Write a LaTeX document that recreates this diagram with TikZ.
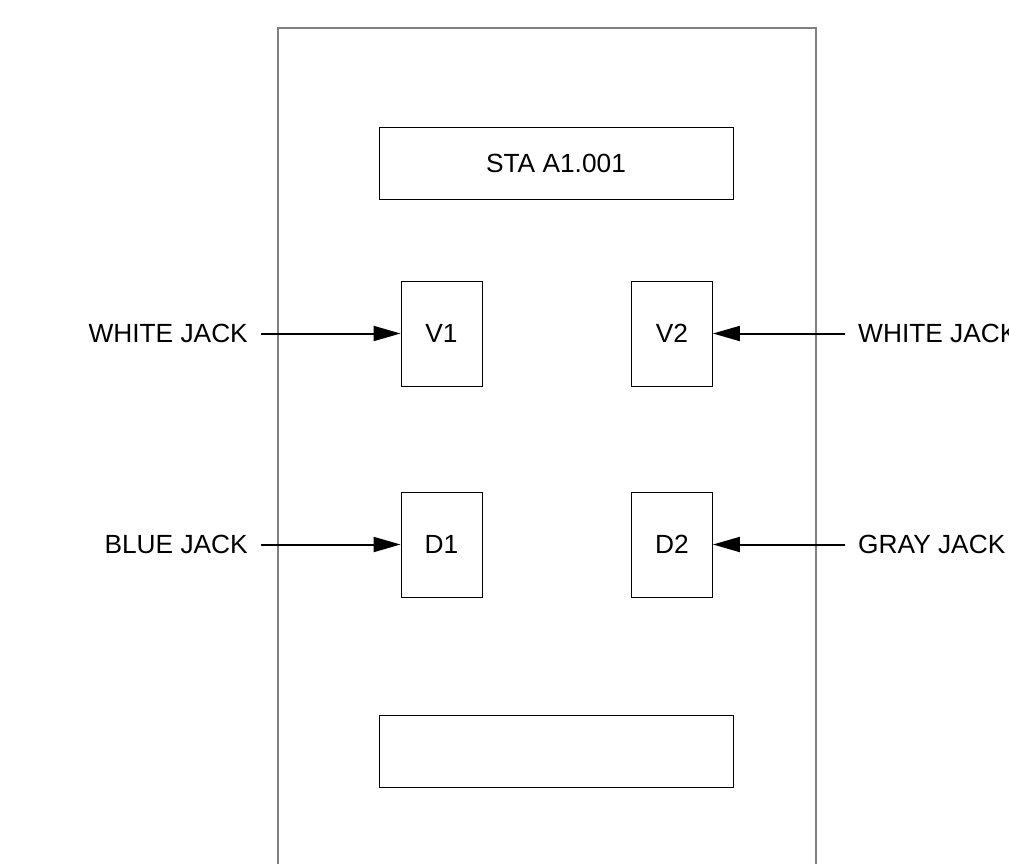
\documentclass[tikz,border=0pt]{standalone}
\usepackage{fontspec}
\setmainfont{Liberation Sans}
\usetikzlibrary{arrows.meta,positioning}

\begin{document}
\begin{tikzpicture}[
    x=1pt, y=-1pt,
    every node/.style={font=\fontsize{26.3}{31}\selectfont},
    panel/.style={draw=black!50, line width=1.2pt},
    jack/.style={draw, line width=0.9pt, minimum width=81pt, minimum height=105pt, inner sep=0pt},
    label/.style={draw, line width=0.9pt, minimum width=354pt, minimum height=72pt, inner sep=0pt},
    lbl/.style={inner sep=13pt},
    arr/.style={-{Triangle[length=27pt,width=15pt]}, line width=2pt},
  ]
    \useasboundingbox (0,0) rectangle (1009,864);

    % Panel
    \draw[panel] (278,28) rectangle (816,900);
    \node[label] (sta) at (556,163) {STA A1.001};
    \node[label] (blank) at (556,751.5) {};

    % Jacks
    \node[jack] (v1) at (441.5,333.5) {V1};
    \node[jack] (v2) at (672,333.5) {V2};
    \node[jack] (d1) at (441.5,544.5) {D1};
    \node[jack] (d2) at (672,544.5) {D2};

    % Cables
    \node[lbl, anchor=east] (wjl) at (261,333.5) {WHITE JACK};
    \node[lbl, anchor=west] (wjr) at (845,333.5) {WHITE JACK};
    \node[lbl, anchor=east] (bj) at (261,544.5) {BLUE JACK};
    \node[lbl, anchor=west] (gj) at (845,544.5) {GRAY JACK};

    % Arrows
    \draw[arr] (wjl) -- (v1);
    \draw[arr] (wjr) -- (v2);
    \draw[arr] (bj) -- (d1);
    \draw[arr] (gj) -- (d2);
  \end{tikzpicture}
\end{document}
